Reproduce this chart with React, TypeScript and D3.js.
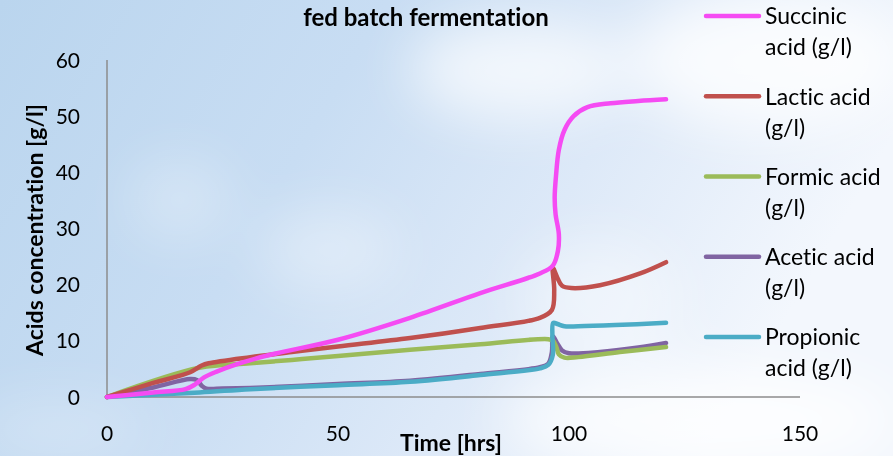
import React from "react";
import * as d3 from "d3";

// [hours, g/l], smoothed curves so x can go back a little near the 97h feed
const succinic: [number, number][] = [
  [0, 0], [10, 0.8], [17, 1.4], [19, 2.2], [21, 3.5], [24, 4.6], [28, 5.8], [32, 6.8],
  [36.8, 7.8], [50, 10.2], [65.6, 14.1], [80.8, 18.5], [93.7, 22.0], [96.5, 23.4],
  [97.6, 26], [97.8, 29], [97.1, 32.5], [96.9, 35.5], [97.2, 39.5], [97.8, 44],
  [99, 47.5], [101, 50], [104, 51.6], [109, 52.3], [115, 52.7], [121, 53],
];
const lactic: [number, number][] = [
  [0, 0], [10, 2.5], [18, 4.4], [20.5, 5.6], [22, 6.0], [31, 7.1], [40, 8.0], [50, 9.0],
  [65.6, 10.5], [80.8, 12.3], [93.7, 14.1], [96.3, 15.5], [96.8, 19], [96.5, 23],
  [97.5, 21.2], [98.5, 19.8], [100.5, 19.4], [106.7, 19.9], [115.4, 22], [121, 24],
];
const formic: [number, number][] = [
  [0, 0], [20, 5.2], [31, 6.0], [40, 6.6], [50, 7.3], [65.6, 8.4], [80.8, 9.4],
  [95.5, 10.3], [96.6, 10.0], [97.3, 8.8], [97.8, 7.6], [99, 7.0], [102, 7.1],
  [111, 8.0], [121, 8.9],
];
const acetic: [number, number][] = [
  [0, 0], [10, 1.7], [18, 3.2], [19.5, 3.0], [20.5, 2.0], [21.5, 1.5], [25, 1.5],
  [31, 1.6], [50, 2.3], [65.6, 2.9], [80.8, 4.1], [93.7, 5.3], [95.5, 5.9], [96.3, 8],
  [96.5, 10.8], [97.5, 9.5], [98.5, 8.3], [100, 7.8], [106.7, 8.0], [115, 8.8], [121, 9.6],
];
const propionic: [number, number][] = [
  [0, 0], [20, 0.8], [31, 1.4], [50, 2.1], [65.6, 2.7], [80.8, 3.9], [93.7, 5.1],
  [95.5, 5.7], [96.5, 7.5], [96.4, 11], [96.6, 13.2], [97.5, 13.0], [99, 12.6],
  [102, 12.6], [110, 12.8], [121, 13.2],
];

const seriesNames = ["Succinic", "Lactic acid", "Formic acid", "Acetic acid", "Propionic"];
const seriesSecondLine = ["acid (g/l)", "(g/l)", "(g/l)", "(g/l)", "acid (g/l)"];
const seriesColors = ["#f54bf3", "#c0504d", "#9bbb59", "#8064a2", "#4bacc6"];
const seriesData = [succinic, lactic, formic, acetic, propionic];

const xTicks = [0, 50, 100, 150];
const yTicks = [0, 10, 20, 30, 40, 50, 60];

const W = 893;
const H = 456;
const font = "Lato, 'Open Sans', sans-serif";

export default function App() {
  const x = d3.scaleLinear().domain([0, 150]).range([107, 800]);
  const y = d3.scaleLinear().domain([0, 60]).range([397, 60]);

  const line = d3
    .line<[number, number]>()
    .x((d) => x(d[0]))
    .y((d) => y(d[1]))
    .curve(d3.curveCatmullRom.alpha(0.5));

  // draw order: propionic at the bottom of the stack, succinic on top
  const order = [3, 2, 4, 1, 0];

  return (
    <svg
      width={W}
      height={H}
      style={{
        position: "absolute",
        left: 0,
        top: 0,
        fontFamily: font,
        fontVariantLigatures: "none",
      }}
    >
      <defs>
        <linearGradient id="sky" x1="0" y1="0" x2="1" y2="0.3">
          <stop offset="0" stopColor="#bad5ee" />
          <stop offset="0.4" stopColor="#c8ddf3" />
          <stop offset="0.7" stopColor="#dde9f8" />
          <stop offset="1" stopColor="#f3f7fd" />
        </linearGradient>
        <filter id="blur" x="-50%" y="-50%" width="200%" height="200%">
          <feGaussianBlur stdDeviation="28" />
        </filter>
      </defs>
      <rect width={W} height={H} fill="url(#sky)" />
      <g filter="url(#blur)" fill="#ffffff">
        <ellipse cx={520} cy={70} rx={110} ry={50} opacity={0.7} />
        <ellipse cx={330} cy={250} rx={70} ry={40} opacity={0.35} />
        <ellipse cx={770} cy={60} rx={140} ry={70} opacity={0.8} />
        <ellipse cx={700} cy={420} rx={200} ry={50} opacity={0.8} />
        <ellipse cx={600} cy={300} rx={80} ry={60} opacity={0.4} />
        <ellipse cx={180} cy={200} rx={50} ry={40} opacity={0.3} />
        <ellipse cx={60} cy={430} rx={90} ry={30} opacity={0.25} />
      </g>

      <text x={426} y={26} textAnchor="middle" fontSize={24} fontWeight="bold">
        fed batch fermentation
      </text>

      {/* axes */}
      <line x1={x(0)} x2={x(0)} y1={y(60)} y2={y(0)} stroke="#8c8c8c" strokeWidth={1.5} />
      <line x1={x(0)} x2={x(150)} y1={y(0)} y2={y(0)} stroke="#8c8c8c" strokeWidth={1.5} />

      {yTicks.map((t) => (
        <text key={t} x={80} y={y(t)} dy="0.36em" textAnchor="end" fontSize={21}>
          {t}
        </text>
      ))}
      {xTicks.map((t) => (
        <text key={t} x={x(t)} y={441} textAnchor="middle" fontSize={21}>
          {t}
        </text>
      ))}

      <text x={451} y={451} textAnchor="middle" fontSize={23} fontWeight="bold">
        Time [hrs]
      </text>
      <text
        transform="translate(43,230) rotate(-90)"
        textAnchor="middle"
        fontSize={23}
        fontWeight="bold"
      >
        Acids concentration [g/l]
      </text>

      {order.map((i) => (
        <path
          key={seriesNames[i]}
          d={line(seriesData[i]) || ""}
          fill="none"
          stroke={seriesColors[i]}
          strokeWidth={4.5}
          strokeLinecap="round"
          strokeLinejoin="round"
        />
      ))}

      {/* legend */}
      {seriesNames.map((name, i) => {
        const ly = 16 + i * 80.25;
        return (
          <g key={name}>
            <line
              x1={706}
              x2={759}
              y1={ly}
              y2={ly}
              stroke={seriesColors[i]}
              strokeWidth={4.5}
              strokeLinecap="round"
            />
            <text x={765} y={ly} dy="0.36em" fontSize={23}>
              {name}
            </text>
            <text x={765} y={ly + 31} dy="0.36em" fontSize={23}>
              {seriesSecondLine[i]}
            </text>
          </g>
        );
      })}
    </svg>
  );
}
